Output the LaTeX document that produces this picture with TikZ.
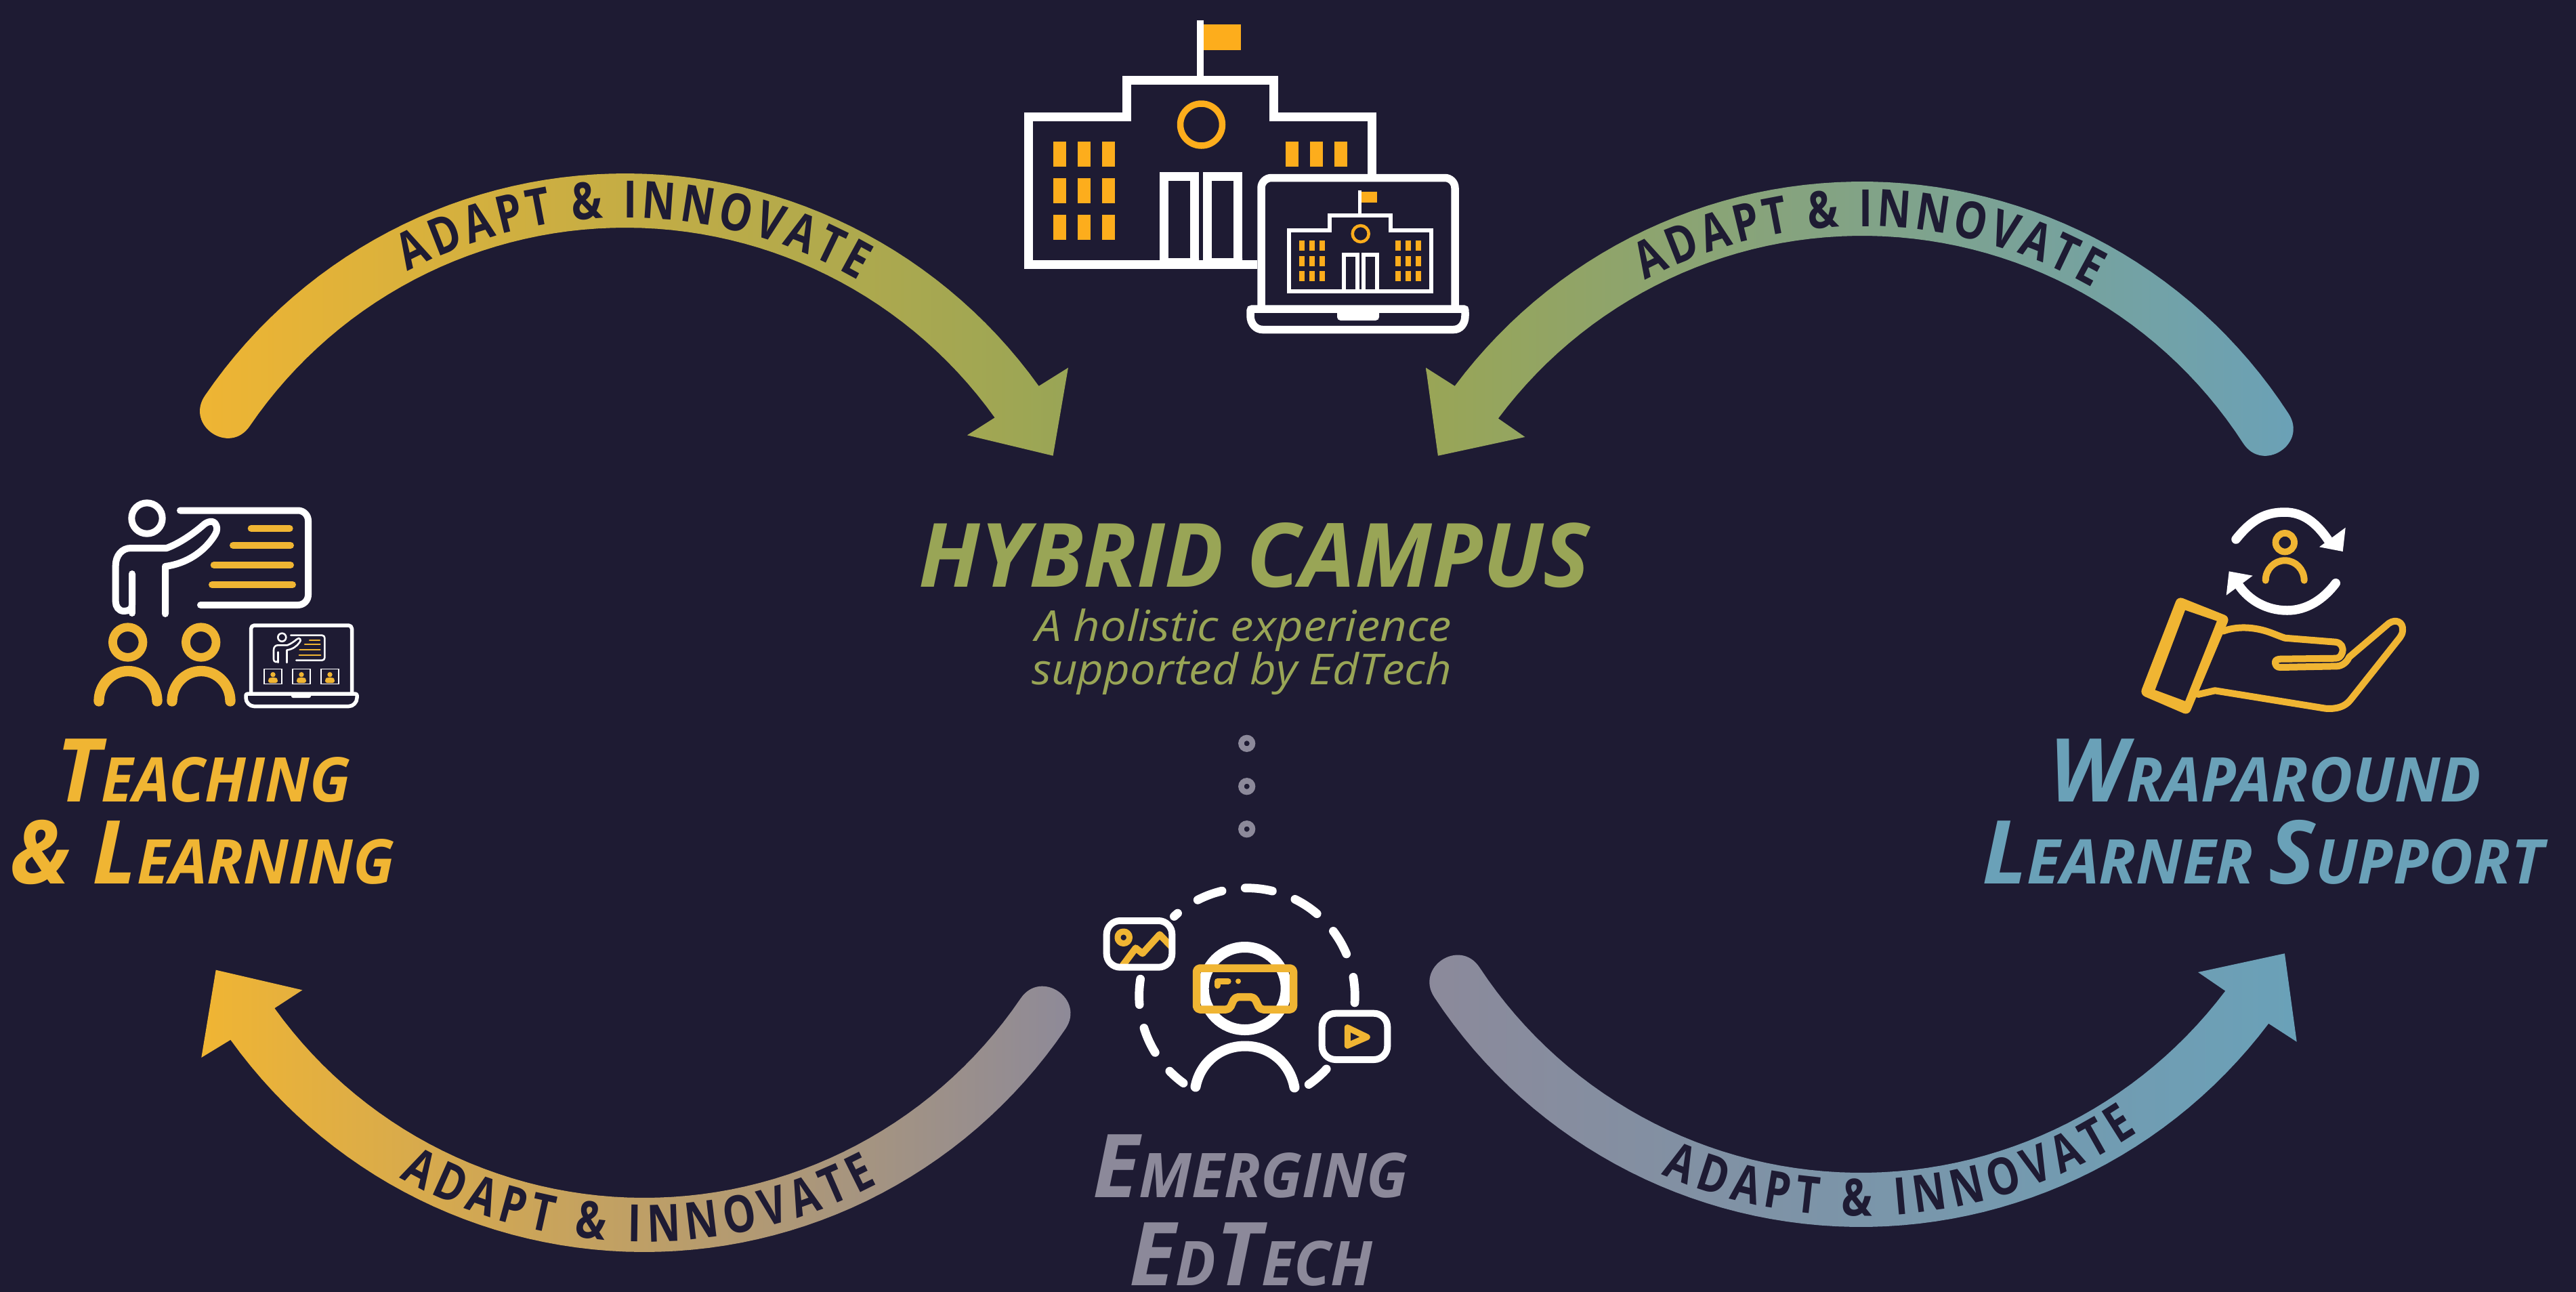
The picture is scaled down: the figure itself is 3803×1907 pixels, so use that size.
\documentclass[tikz,border=0pt]{standalone}
\usepackage{fontspec}
\usepackage{graphicx}
\usetikzlibrary{decorations.text}
\setmainfont{Open Sans}
\newfontfamily\arcfam[FakeStretch=0.8]{Open Sans}
\definecolor{bgc}{HTML}{1E1B33}
\definecolor{tlY}{HTML}{F0B533}
\definecolor{flagO}{HTML}{FDAD1C}
\definecolor{grnC}{HTML}{99A556}
\definecolor{bluC}{HTML}{6AA1B8}
\definecolor{gryC}{HTML}{8C899A}
\newcommand{\hf}[1]{\fontsize{#1}{#1}\selectfont\bfseries\itshape}
\newcommand{\fitw}[2]{\resizebox{\dimexpr #1pt/5\relax}{\height}{#2}}
\newcommand{\arcfnt}{\arcfam\fontsize{15.2}{15.2}\selectfont\bfseries}
\tikzset{x=0.2pt,y=-0.2pt,
  lw/.style={line width=#1*0.2pt},
  lab/.style={inner sep=0pt,anchor=base west},
  wstroke/.style={draw=white,line width=#1*0.2pt},
  ystroke/.style={draw=tlY,line width=#1*0.2pt,line cap=round,line join=round},
  rstroke/.style={draw=white,line width=#1*0.2pt,line cap=round,line join=round},
}
% cx cy r w a1 a2 colL colR head
\newcommand{\bandarrow}[9]{%
  \pgfmathsetmacro{\ro}{#3+#4/2}\pgfmathsetmacro{\ri}{#3-#4/2}%
  \pgfmathsetmacro{\sg}{ifthenelse(#6>#5,1,-1)}%
  \pgfmathsetmacro{\Tx}{\sg*sin(#5)*#4/2*1.33}%
  \pgfmathsetmacro{\Ty}{\sg*cos(#5)*#4/2*1.33}%
  \pgfmathsetmacro{\sox}{#1+\ro*cos(#5)}\pgfmathsetmacro{\soy}{#2-\ro*sin(#5)}%
  \pgfmathsetmacro{\six}{#1+\ri*cos(#5)}\pgfmathsetmacro{\siy}{#2-\ri*sin(#5)}%
  \shade[left color=#7,right color=#8]
    plot[domain=#5:#6,samples=60] ({#1+\ro*cos(\x)},{#2-\ro*sin(\x)})
    -- #9 --
    plot[domain=#6:#5,samples=60] ({#1+\ri*cos(\x)},{#2-\ri*sin(\x)})
    .. controls (\six+\Tx,\siy+\Ty) and (\sox+\Tx,\soy+\Ty) .. (\sox,\soy) -- cycle;
}
% cx cy r a1 a2
\newcommand{\arctext}[5]{%
  \path[decorate,decoration={text along path,text color=bgc,
     text={|\arcfnt|ADAPT {\&} INNOVATE},text align={fit to path}}]
     plot[domain=#4:#5,samples=60] ({#1+#3*cos(\x)},{#2-#3*sin(\x)});
}
\newcommand{\hump}[4]{(#1,#3) .. controls (#1,{#3-.552*(#3-#4)}) and ({(#1+#2)/2-.276*(#2-#1)},#4) .. ({(#1+#2)/2},#4) .. controls ({(#1+#2)/2+.276*(#2-#1)},#4) and (#2,{#3-.552*(#3-#4)}) .. (#2,#3)}
\newcommand{\teacherfig}[3]{%
  \draw[rstroke=#1,rounded corners=#3] (266,753.5) -- (455,753.5) -- (455,893) -- (296,893);
  \draw[rstroke=#1] (217,765) circle (22.7);
  \draw[rstroke=#1] (195,847) -- (195,893) .. controls (195,899) and (190,902) .. (183,902)
     .. controls (175,902) and (170.7,895) .. (170.7,888) -- (170.7,835)
     .. controls (170.7,820) and (180,809) .. (193,809) -- (246,809)
     .. controls (265,802) and (285,788) .. (299,776)
     .. controls (306,769) and (316,767) .. (319,775)
     .. controls (322,782) and (319,787) .. (315,793)
     .. controls (300,815) and (275,832) .. (244,836) -- (244,906);
  \draw[rstroke=#1] (195,890) -- (195,905);
  \draw[ystroke=#2] (370.7,780) -- (427.7,780) (344,805) -- (429,805) (315.7,834) -- (429,834) (313,863) -- (432,863);
}
\newcommand{\dasharc}[2]{\draw[rstroke=12.7] plot[domain=#1:#2,samples=14] ({1841+159.3*cos(\x)},{1470-159.3*sin(\x)});}
\newcommand{\miniperson}[1]{%
  \draw[draw=white,line width=0.3pt,fill=bgc] (#1-12.8,987.5) rectangle (#1+12.8,1009.5);
  \fill[tlY] (#1,995.7) circle (3.7);
  \fill[tlY,rounded corners=0.6pt] (#1-7,1008) -- (#1-7,1002) -- (#1-4,1000) -- (#1+4,1000) -- (#1+7,1002) -- (#1+7,1008) -- cycle;
}
\begin{document}
\begin{tikzpicture}
\useasboundingbox (0,0) rectangle (3803,1907);
\fill[bgc] (0,0) rectangle (3803,1907);

% ---- band arrows
\bandarrow{923}{1007}{711}{80}{145.7}{35.6}{tlY}{grnC}{(1577,542.7) -- (1554.6,672.7) -- (1427.9,642.3)}
\arctext{923}{1007}{686}{117.9}{59.9}
\bandarrow{2749}{1018}{710}{80}{32.9}{143.3}{grnC}{bluC}{(2105,542.7) -- (2122.9,672.7) -- (2251.4,645)}
\arctext{2749}{1018}{684}{117.9}{60.2}
\bandarrow{951}{1096}{712}{80}{-34.2}{-144.3}{tlY}{gryC}{(297.3,1561) -- (318.7,1431.7) -- (446.4,1461.3)}
\arctext{951}{1096}{737}{-119.4}{-62.1}
\bandarrow{2747}{1057}{714}{80}{-146.6}{-37}{gryC}{bluC}{(3390.7,1537.7) -- (3372.9,1407.3) -- (3245,1435)}
\arctext{2747}{1057}{738}{-113.5}{-56.3}

% ---- school
\fill[white] (1767,30) rectangle (1777,118);
\fill[flagO] (1777,36) rectangle (1832,74);
\draw[wstroke=13] (1856,390) -- (1518.5,390) -- (1518.5,172.5) -- (1663.5,172.5) -- (1663.5,118.5) -- (1880,118.5) -- (1880,172.5) -- (2025,172.5) -- (2025,262);
\draw[flagO,lw=9.5] (1773.5,184) circle (31);
\foreach \yy in {209,263,317}{\foreach \xx in {1555,1591,1627}{\fill[flagO] (\xx,\yy) rectangle (\xx+19,\yy+37);}}
\foreach \xx in {1898,1934,1970}{\fill[flagO] (\xx,209) rectangle (\xx+19,246);}
\draw[wstroke=13] (1718.5,390) -- (1718.5,260) -- (1763.5,260) -- (1763.5,390);
\draw[wstroke=13] (1782.5,390) -- (1782.5,260) -- (1827.5,260) -- (1827.5,390);
\fill[white] (1712,381) rectangle (1770,396) (1776,381) rectangle (1834,396);
% laptop
\draw[wstroke=11.5,rounded corners=3pt] (1862,456) -- (1862,262.5) -- (2148,262.5) -- (2148,456);
\draw[wstroke=11.5,fill=bgc] (1852,456) -- (2158,456) .. controls (2163,456) and (2163,456) .. (2163,462) -- (2163,466) .. controls (2163,478) and (2156,486.5) .. (2146,486.5) -- (1864,486.5) .. controls (1854,486.5) and (1846,478) .. (1846,466) -- (1846,462) .. controls (1846,456) and (1846,456) .. (1852,456) -- cycle;
\fill[white,rounded corners=1pt] (1974,456) -- (1974,473) -- (2036,473) -- (2036,456) -- cycle;
% mini school
\fill[white] (2005,281) rectangle (2010,317);
\fill[flagO] (2010,283) rectangle (2033,299);
\draw[wstroke=6] (1902.5,340) -- (1963,340) -- (1963,317.5) -- (2053,317.5) -- (2053,340) -- (2113,340) -- (2113,430) -- (1902.5,430) -- cycle;
\draw[flagO,lw=4.5] (2008.7,345) circle (12);
\foreach \yy in {355,378,400}{\foreach \xx in {1918,1933,1948,2060,2075,2090}{\fill[flagO] (\xx,\yy) rectangle (\xx+8,\yy+15);}}
\draw[wstroke=6] (1984,430) -- (1984,376) -- (2003.5,376) -- (2003.5,430);
\draw[wstroke=6] (2013,430) -- (2013,376) -- (2033,376) -- (2033,430);

% ---- teacher icon
\teacherfig{10}{10}{3pt}
\draw[ystroke=12.7] (188.7,948) circle (22.3) (296.7,948) circle (22.3);
\draw[ystroke=15.3] \hump{146}{232}{1035}{990.5};
\draw[ystroke=15.3] \hump{254}{340}{1035}{990.5};
\draw[rstroke=5.5,rounded corners=1pt] (370.5,1024) -- (370.5,923) -- (519.5,923) -- (519.5,1024);
\draw[rstroke=5.5] (366,1024) -- (524,1024) .. controls (528,1024) and (527,1028) .. (527,1030) .. controls (527,1037) and (521,1042.5) .. (515,1042.5) -- (375,1042.5) .. controls (369,1042.5) and (363,1037) .. (363,1030) .. controls (363,1028) and (362,1024) .. (366,1024) -- cycle;
\fill[white,rounded corners=.5pt] (430,1024) -- (430,1030) -- (459,1030) -- (459,1024) -- cycle;
\begin{scope}[shift={(358.8,738)},scale=.265]
\teacherfig{2.6}{2.2}{.8pt}
\end{scope}
\miniperson{403}\miniperson{445}\miniperson{487}

% ---- hand icon
\draw[rstroke=13.5] (3301,796) .. controls (3325,766) and (3345,756) .. (3373,756) .. controls (3400,756) and (3420,772) .. (3437,797);
\fill[white] (3462.7,778.7) -- (3458.7,814) -- (3424,807.3) -- cycle;
\draw[rstroke=13.5] (3448.3,860.7) .. controls (3430,885) and (3405,901) .. (3376.7,901) .. controls (3345,901) and (3320,885) .. (3306,865);
\fill[white] (3286.7,878.7) -- (3290.7,843.3) -- (3325.7,849.7) -- cycle;
\draw[ystroke=9.7] (3373.3,800.7) circle (13.8);
\draw[ystroke=10] \hump{3344.7}{3401.7}{856.7}{827.3};
\draw[ystroke=10] (3281.7,931.7) .. controls (3300,925) and (3320,925) .. (3340,930)
   .. controls (3352,933) and (3362,938) .. (3373.3,941.7) -- (3448.3,947.7)
   .. controls (3457,949) and (3460,956) .. (3458,963) .. controls (3456,969) and (3453,971.5) .. (3448,971.7)
   -- (3366.7,972.7) .. controls (3361,973) and (3358,975) .. (3359,979) .. controls (3360,983) and (3362,985) .. (3366.7,985)
   -- (3450,983.3) .. controls (3458,983) and (3465,977) .. (3468,970) -- (3526.7,920)
   .. controls (3537,913) and (3548,918) .. (3547,930) .. controls (3547,935) and (3545,938) .. (3543,941)
   -- (3470,1033) .. controls (3462,1043) and (3450,1047) .. (3433,1045.7) -- (3270,1019.3) -- (3245,1025);
\fill[tlY,rounded corners=1.6pt] (3215,880) -- (3292,910.7) -- (3231,1056) -- (3159,1025) -- cycle;
\fill[bgc] (3226,900.7) -- (3272.7,916.7) -- (3226,1034.7) -- (3181.7,1018.3) -- cycle;

% ---- VR icon
\draw[rstroke=16] (1837.7,1459) circle (61);
\draw[rstroke=15] (1765,1604) .. controls (1772,1568) and (1802,1544) .. (1838,1544) .. controls (1874,1544) and (1904,1568) .. (1911,1605);
\draw[ystroke=11.5,rounded corners=1pt,line join=round] (1766.5,1429) -- (1909.5,1429) -- (1909.5,1490) -- (1860,1490) -- (1851.7,1471.7) -- (1823,1471.7) -- (1815,1490) -- (1766.5,1490) -- cycle;
\draw[ystroke=8.7] (1813.3,1448.3) -- (1797.3,1448.3) -- (1797.3,1455);
\fill[tlY] (1828,1448.3) circle (4);
\dasharc{91}{76.4}\dasharc{63.6}{49.6}\dasharc{36.9}{22.9}\dasharc{10}{-3.6}\dasharc{-42.6}{-55.1}\dasharc{-126.1}{-135.8}\dasharc{-148.4}{-162.7}\dasharc{-175.4}{-189}\dasharc{132.5}{130}\dasharc{117.2}{103.4}
% picture frame
\begin{scope}
\clip (1633.7,1359) rectangle (1730.3,1427.7);
\draw[draw=tlY,lw=10,line join=round] (1656,1427) -- (1676.7,1399.3) -- (1686.7,1407.3) -- (1712,1379.3) -- (1730,1398);
\end{scope}
\draw[ystroke=9] (1658.7,1383.7) circle (8.8);
\draw[rstroke=10,rounded corners=4pt] (1633.7,1359) rectangle (1730.3,1427.7);
% video frame
\draw[rstroke=10,rounded corners=4pt] (1951.7,1495.7) rectangle (2048.3,1564);
\draw[ystroke=9] (1989.3,1516.7) -- (2018.3,1530.7) -- (1989.3,1543.3) -- cycle;

% ---- dots
\foreach \yy in {1097.3,1160.7,1223.7}{\draw[draw=gryC,lw=8.5] (1840.7,\yy) circle (8.3);}

% ---- titles
\node[lab,text=grnC] (hybrid) at (1355,866.5) {\fitw{991}{\hf{26.2}HYBRID CAMPUS}};
\node[lab,text=grnC] (sub1) at (1527,946) {\fitw{615}{\fontsize{12.6}{12.6}\selectfont\itshape A holistic experience}};
\node[lab,text=grnC] (sub2) at (1522,1010) {\fitw{620}{\fontsize{12.6}{12.6}\selectfont\itshape supported by EdTech}};
\node[lab,text=tlY] (tl1) at (83,1183.7) {\fitw{433}{\hf{26}T\hf{18.2}EACHING}};
\node[lab,text=tlY] (tl2) at (13.6,1304) {\fitw{568}{\hf{26}\& L\hf{18.2}EARNING}};
\node[lab,text=bluC] (wl1) at (3024,1183.7) {\fitw{638}{\hf{26}W\hf{18.2}RAPAROUND}};
\node[lab,text=bluC] (wl2) at (2925,1304) {\fitw{829}{\hf{26}L\hf{18.2}EARNER \hf{26}S\hf{18.2}UPPORT}};
\node[lab,text=gryC] (ee1) at (1612,1767) {\fitw{466}{\hf{26}E\hf{18.2}MERGING}};
\node[lab,text=gryC] (ee2) at (1666,1897) {\fitw{359}{\hf{26}E\hf{18.2}D\hf{26}T\hf{18.2}ECH}};
\end{tikzpicture}
\end{document}
